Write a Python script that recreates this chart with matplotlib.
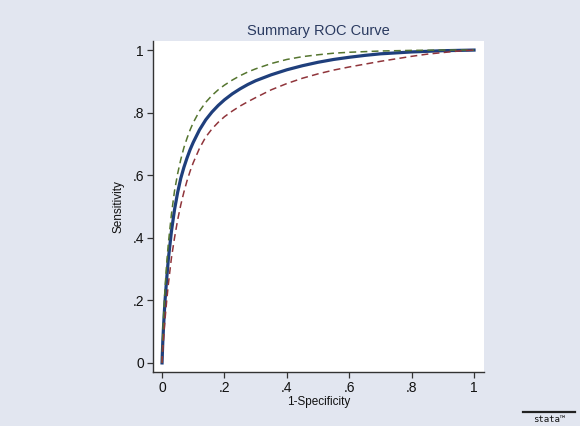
import matplotlib
matplotlib.use("Agg")
import matplotlib.pyplot as plt
from matplotlib.lines import Line2D

# 1-Specificity grid and sensitivities
fpr = [0, 0.001, 0.0025, 0.005, 0.0075, 0.01, 0.015, 0.02, 0.03, 0.04, 0.05,
       0.06, 0.07, 0.08, 0.09, 0.1, 0.12, 0.14, 0.16, 0.18, 0.2, 0.225, 0.25,
       0.275, 0.3, 0.35, 0.4, 0.45, 0.5, 0.55, 0.6, 0.65, 0.7, 0.75, 0.8,
       0.85, 0.9, 0.95, 1.0]
sroc = [0, 0.03, 0.07, 0.12, 0.165, 0.205, 0.27, 0.33, 0.42, 0.49, 0.545,
        0.59, 0.625, 0.655, 0.682, 0.705, 0.745, 0.777, 0.802, 0.823, 0.841,
        0.86, 0.876, 0.89, 0.902, 0.921, 0.937, 0.95, 0.961, 0.97, 0.977,
        0.983, 0.988, 0.991, 0.994, 0.996, 0.998, 0.999, 1.0]
upper = [0, 0.04, 0.09, 0.15, 0.20, 0.245, 0.32, 0.38, 0.475, 0.55, 0.605,
         0.65, 0.688, 0.718, 0.745, 0.768, 0.805, 0.833, 0.855, 0.873, 0.888,
         0.904, 0.918, 0.93, 0.94, 0.957, 0.97, 0.979, 0.985, 0.99, 0.993,
         0.995, 0.997, 0.998, 0.999, 0.9995, 1.0, 1.0, 1.0]
lower = [0, 0.02, 0.045, 0.08, 0.115, 0.145, 0.20, 0.25, 0.335, 0.40, 0.457,
         0.505, 0.546, 0.582, 0.613, 0.64, 0.686, 0.722, 0.748, 0.769, 0.787,
         0.805, 0.821, 0.835, 0.848, 0.873, 0.893, 0.91, 0.924, 0.936, 0.946,
         0.955, 0.964, 0.972, 0.98, 0.987, 0.992, 0.997, 1.0]

xticks = [0, 0.2, 0.4, 0.6, 0.8, 1.0]
xticklabels = ["0", ".2", ".4", ".6", ".8", "1"]
yticks = [0, 0.2, 0.4, 0.6, 0.8, 1.0]
yticklabels = ["0", ".2", ".4", ".6", ".8", "1"]

plt.rcParams['font.family'] = ['Liberation Sans', 'DejaVu Sans']

BG = '#E2E6F0'
fig = plt.figure(figsize=(5.8, 4.26), dpi=100, facecolor=BG)
ax = fig.add_axes([153/580, 1-372/426, (484-153)/580, (372-41)/426])
ax.set_facecolor('white')

ax.plot(fpr, sroc, color='#1F3F7C', lw=2.3, solid_joinstyle='round', zorder=3)
ax.plot(fpr, upper, color='#55752F', lw=1.1, dashes=(4.5, 2.8), zorder=4)
ax.plot(fpr, lower, color='#90353B', lw=1.1, dashes=(4.5, 2.8), zorder=4)

ax.set_xlim(-0.029, 1.032)
ax.set_ylim(-0.029, 1.029)
ax.set_xticks(xticks)
ax.set_xticklabels(xticklabels)
ax.set_yticks(yticks)
ax.set_yticklabels(yticklabels)

for s in ['top', 'right']:
    ax.spines[s].set_visible(False)
for s in ['left', 'bottom']:
    ax.spines[s].set_color('#333333')
    ax.spines[s].set_linewidth(1.0)
ax.tick_params(direction='out', length=4, width=0.9, color='#333333',
               labelsize=10, labelcolor='#111111', pad=2.5)

ax.set_xlabel('1-Specificity', fontsize=8.5, color='#111111', labelpad=1)
ax.set_ylabel('Sensitivity', fontsize=8.5, color='#111111', labelpad=6)
ax.set_title('Summary ROC Curve', fontsize=10.5, color='#2A3A60', pad=4)

# Stata logo
fig.add_artist(Line2D([523/580, 575/580], [1-412/426, 1-412/426],
                      color='#222222', lw=1.6, transform=fig.transFigure))
fig.text(549/580, 1-419/426, 'stata\u2122', ha='center', va='center',
         fontsize=6.5, family='DejaVu Sans Mono', color='#111111')

fig.savefig('out.png', dpi=100, facecolor=BG)
